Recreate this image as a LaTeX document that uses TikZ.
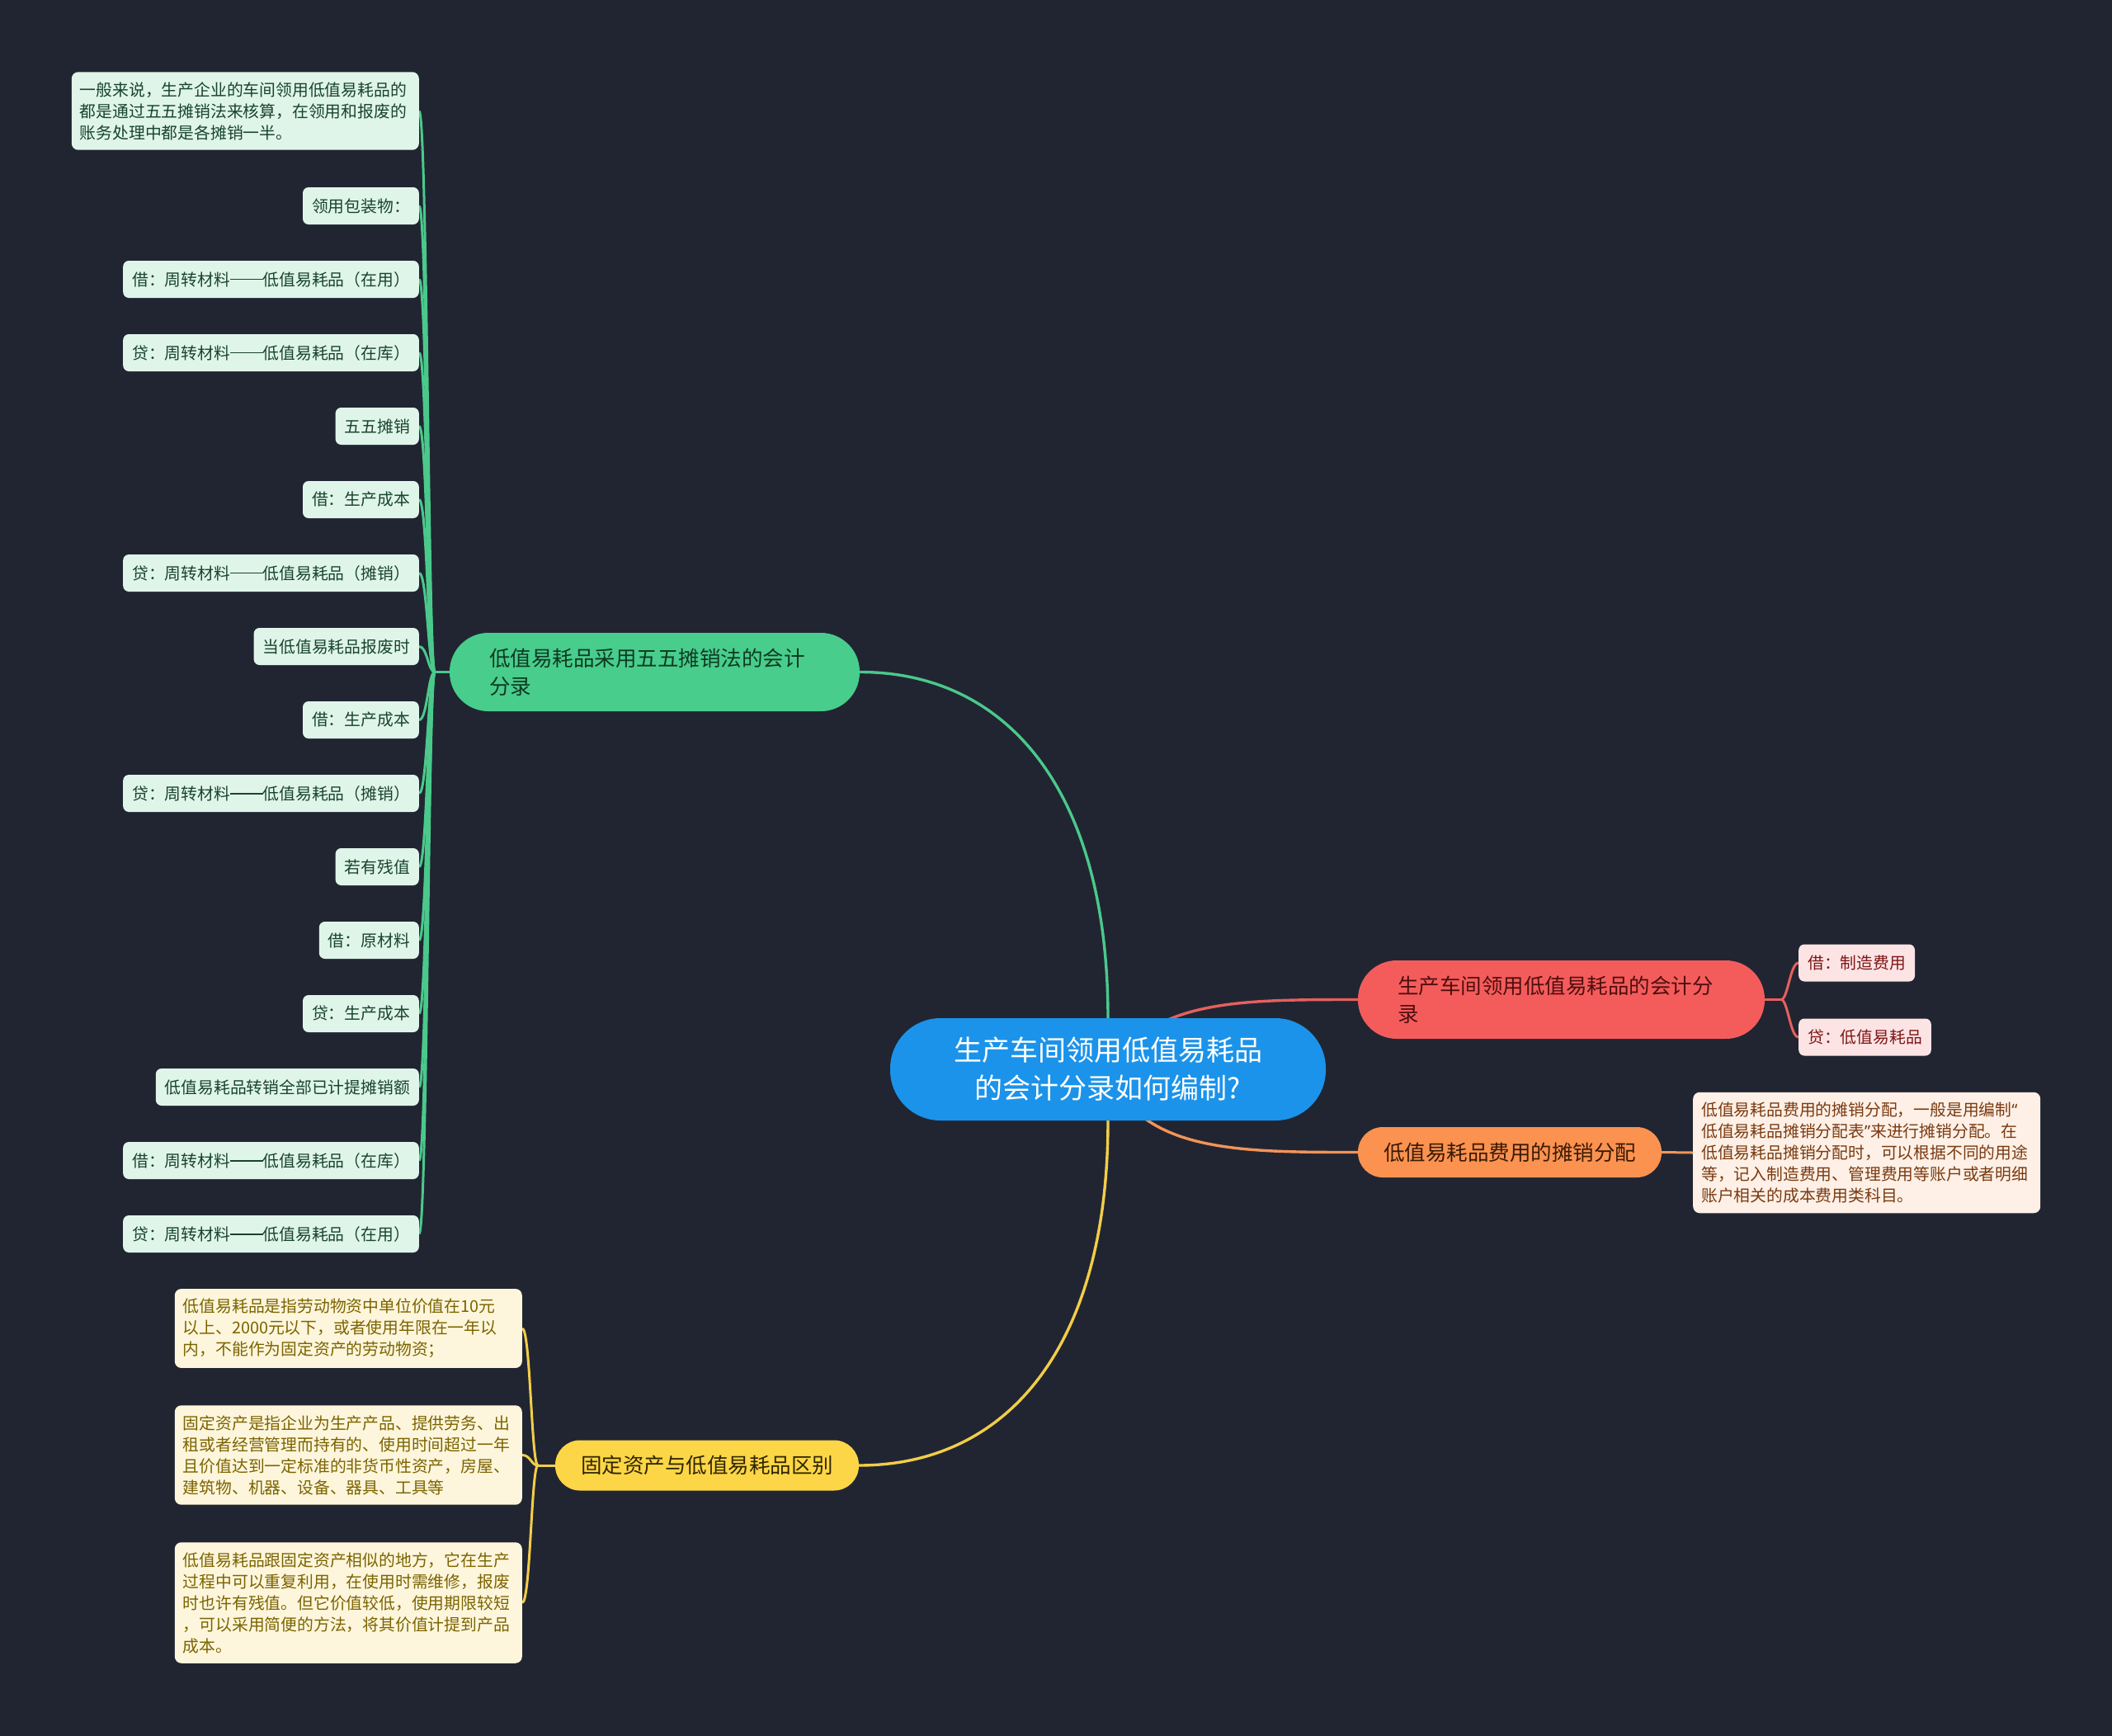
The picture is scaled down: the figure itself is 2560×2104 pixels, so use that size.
\documentclass[tikz,border=0pt]{standalone}
\usepackage{fontspec}
\setmainfont{Noto Sans CJK SC}
\newfontfamily\latinq{Noto Sans}
\newcommand\dashtwo{\rule[0.33em]{2em}{0.065em}}
\newcommand\myopenq{{\latinq “}}
\newcommand\mycloseq{{\latinq ”}}
\usetikzlibrary{calc}
\pgfdeclarelayer{bg}
\pgfsetlayers{bg,main}
\definecolor{bgc}{HTML}{212532}
\definecolor{cblue}{HTML}{1B93EA}
\definecolor{gmain}{HTML}{48CD8C}
\definecolor{gleaf}{HTML}{E0F5EA}
\definecolor{gtext}{HTML}{18442D}
\definecolor{gline}{HTML}{4AC98B}
\definecolor{rmain}{HTML}{F45C5C}
\definecolor{rleaf}{HTML}{FDE4E4}
\definecolor{rtext}{HTML}{7D1616}
\definecolor{rmtext}{HTML}{4F0E0E}
\definecolor{rline}{HTML}{E5605F}
\definecolor{omain}{HTML}{FB9250}
\definecolor{oleaf}{HTML}{FEF0E6}
\definecolor{otext}{HTML}{7A3A10}
\definecolor{omtext}{HTML}{3B1A04}
\definecolor{oline}{HTML}{F29458}
\definecolor{ymain}{HTML}{FCD646}
\definecolor{yleaf}{HTML}{FDF6DC}
\definecolor{ytext}{HTML}{7C6300}
\definecolor{ymtext}{HTML}{302600}
\definecolor{yline}{HTML}{F2CD48}
\definecolor{gmtext}{HTML}{0E3A22}
\begin{document}
\begin{tikzpicture}[x=1pt,y=-1pt,
  centralbox/.style={fill=cblue, text=white, rounded corners=61pt, minimum width=528pt, minimum height=124pt, inner sep=0pt, align=center, font=\fontsize{34}{46}\selectfont},
  lonebox/.style={rounded corners=47pt, minimum height=95pt, inner xsep=48pt, inner ysep=0pt, align=left, font=\fontsize{25.5}{34}\selectfont},
  lsingle/.style={rounded corners=30pt, minimum height=61pt, inner xsep=31pt, inner ysep=0pt, font=\fontsize{25.5}{34}\selectfont},
  leafbox/.style={rounded corners=7pt, inner xsep=11pt, inner ysep=0pt, minimum height=45pt, font=\fontsize{19.8}{24}\selectfont},
  parabox/.style={rounded corners=8pt, inner xsep=10pt, inner ysep=12pt, text width=401pt, align=left, font=\fontsize{19.8}{26}\selectfont},
  mainedge/.style={line width=3.4pt},
  subedge/.style={line width=3pt}
]
\useasboundingbox (0,0) rectangle (2560,2104);

% central
\node[centralbox] (cen) at (1343,1296) {生产车间领用低值易耗品\\的会计分录如何编制?};

% level 1
\node[lonebox, fill=gmain, text=gmtext, text width=401pt] (L1g) at (793.5,814.5) {低值易耗品采用五五摊销法的会计\\分录};
\node[lonebox, fill=rmain, text=rmtext, text width=397pt] (L1r) at (1892.5,1211.5) {生产车间领用低值易耗品的会计分\\录};
\node[lsingle, fill=omain, text=omtext] (L1o) at (1830,1396.5) {低值易耗品费用的摊销分配};
\node[lsingle, fill=ymain, text=ymtext] (L1y) at (857,1776) {固定资产与低值易耗品区别};

% green children
\node[parabox, fill=gleaf, text=gtext, anchor=east] (gp) at (508,134.5) {一般来说，生产企业的车间领用低值易耗品的\\都是通过五五摊销法来核算，在领用和报废的\\账务处理中都是各摊销一半。};
\foreach \t [count=\i from 0] in {领用包装物：,
  借：周转材料\dashtwo 低值易耗品（在用）,
  贷：周转材料\dashtwo 低值易耗品（在库）,
  五五摊销,
  借：生产成本,
  贷：周转材料\dashtwo 低值易耗品（摊销）,
  当低值易耗品报废时,
  借：生产成本,
  贷：周转材料\dashtwo 低值易耗品（摊销）,
  若有残值,
  借：原材料,
  贷：生产成本,
  低值易耗品转销全部已计提摊销额,
  借：周转材料\dashtwo 低值易耗品（在库）,
  贷：周转材料\dashtwo 低值易耗品（在用）}
  \node[leafbox, fill=gleaf, text=gtext, anchor=east] (g\i) at (508,{249.5+89*\i}) {\t};

% red children
\node[leafbox, fill=rleaf, text=rtext, anchor=west] (r1) at (2180,1167) {借：制造费用};
\node[leafbox, fill=rleaf, text=rtext, anchor=west] (r2) at (2180,1257) {贷：低值易耗品};

% orange child
\node[parabox, fill=oleaf, text=otext, anchor=west] (op) at (2052,1397) {低值易耗品费用的摊销分配，一般是用编制\myopenq\\低值易耗品摊销分配表\mycloseq 来进行摊销分配。在\\低值易耗品摊销分配时，可以根据不同的用途\\等，记入制造费用、管理费用等账户或者明细\\账户相关的成本费用类科目。};

% yellow children
\node[parabox, fill=yleaf, text=ytext, anchor=east] (y1) at (633,1610) {低值易耗品是指劳动物资中单位价值在10元\\以上、2000元以下，或者使用年限在一年以\\内，不能作为固定资产的劳动物资；};
\node[parabox, fill=yleaf, text=ytext, anchor=east] (y2) at (633,1763.5) {固定资产是指企业为生产产品、提供劳务、出\\租或者经营管理而持有的、使用时间超过一年\\且价值达到一定标准的非货币性资产，房屋、\\建筑物、机器、设备、器具、工具等};
\node[parabox, fill=yleaf, text=ytext, anchor=east] (y3) at (633,1942.5) {低值易耗品跟固定资产相似的地方，它在生产\\过程中可以重复利用，在使用时需维修，报废\\时也许有残值。但它价值较低，使用期限较短\\，可以采用简便的方法，将其价值计提到产品\\成本。};

\coordinate (gs) at (527,814.5);
\coordinate (ys) at (652,1776);
\coordinate (rs) at (2159,1211.5);

\begin{pgfonlayer}{bg}
\fill[bgc] (0,0) rectangle (2560,2104);
% main edges
\draw[mainedge, gline] (cen.north) .. controls ($(cen.north)+(0,-274)$) and ($(L1g.east)+(180,0)$) .. (L1g.east);
\draw[mainedge, yline] (cen.south) .. controls ($(cen.south)+(0,274)$) and ($(L1y.east)+(180,0)$) .. (L1y.east);
\draw[mainedge, rline] (cen.center) .. controls ($(L1r.west)+(-246,0)$) and ($(L1r.west)+(-146,0)$) .. (L1r.west);
\draw[mainedge, oline] (cen.center) .. controls ($(L1o.west)+(-265,0)$) and ($(L1o.west)+(-146,0)$) .. (L1o.west);
% green sub edges
\draw[subedge, gline] (L1g.west) -- (gs);
\draw[subedge, gline] (gs) .. controls ($(gs)+(-8,0)$) and ($(gp.east)+(10,0)$) .. (gp.east);
\foreach \i in {0,...,14}
  \draw[subedge, gline] (gs) .. controls ($(gs)+(-8,0)$) and ($(g\i.east)+(10,0)$) .. (g\i.east);
% yellow sub edges
\draw[subedge, yline] (L1y.west) -- (ys);
\foreach \n in {y1,y2,y3}
  \draw[subedge, yline] (ys) .. controls ($(ys)+(-8,0)$) and ($(\n.east)+(10,0)$) .. (\n.east);
% red sub edges
\draw[subedge, rline] (L1r.east) -- (rs);
\foreach \n in {r1,r2}
  \draw[subedge, rline] (rs) .. controls ($(rs)+(8,0)$) and ($(\n.west)+(-10,0)$) .. (\n.west);
% orange sub edge
\draw[subedge, oline] (L1o.east) -- (op.west);
\end{pgfonlayer}
\end{tikzpicture}
\end{document}
